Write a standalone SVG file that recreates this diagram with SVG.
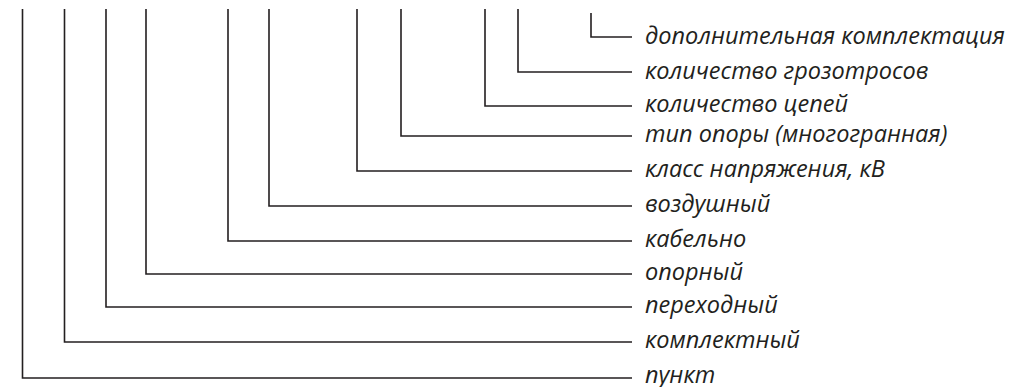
<svg xmlns="http://www.w3.org/2000/svg" width="1034" height="387" viewBox="0 0 1034 387">
<style>
.c{fill:none;stroke:#231f20;stroke-width:1.6}
.t{font-family:"Open Sans","DejaVu Sans",sans-serif;font-style:italic;font-size:23.5px;fill:#231f20}
</style>
<rect width="1034" height="387" fill="#fff"/>
<g id="connectors">
<path class="c" d="M591,13V37H632"/>
<path class="c" d="M518,9V72H632"/>
<path class="c" d="M485,9V106H632"/>
<path class="c" d="M401,9V136H632"/>
<path class="c" d="M357,9V171H632"/>
<path class="c" d="M269,9V206H632"/>
<path class="c" d="M228,9V241H632"/>
<path class="c" d="M146,9V274H632"/>
<path class="c" d="M106,9V307H632"/>
<path class="c" d="M64.5,9V342H632"/>
<path class="c" d="M22.5,9V378H632"/>
</g>
<g id="n1"><text class="t" x="645" y="44">дополнительная комплектация</text></g>
<g id="n2"><text class="t" x="645" y="79">количество грозотросов</text></g>
<g id="n3"><text class="t" x="645" y="112">количество цепей</text></g>
<g id="n4"><text class="t" x="645" y="142">тип опоры (многогранная)</text></g>
<g id="n5"><text class="t" x="645" y="177">класс напряжения, кВ</text></g>
<g id="n6"><text class="t" x="645" y="212">воздушный</text></g>
<g id="n7"><text class="t" x="645" y="247">кабельно</text></g>
<g id="n8"><text class="t" x="645" y="280">опорный</text></g>
<g id="n9"><text class="t" x="645" y="313">переходный</text></g>
<g id="n10"><text class="t" x="645" y="348">комплектный</text></g>
<g id="n11"><text class="t" x="645" y="383">пункт</text></g>
</svg>
